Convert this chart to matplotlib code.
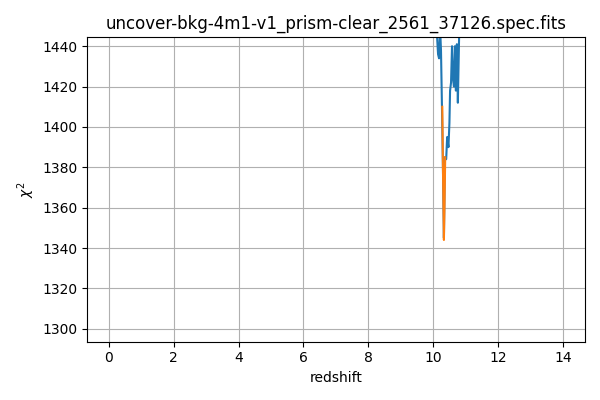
import matplotlib
matplotlib.use("Agg")
import matplotlib.pyplot as plt

TITLE = "uncover-bkg-4m1-v1_prism-clear_2561_37126.spec.fits"

# full chi2 curve (only the part around the minimum is in view)
z_all = [9.8, 10.00, 10.10, 10.15, 10.18, 10.21, 10.24, 10.27, 10.30, 10.33, 10.36,
         10.40, 10.43, 10.47, 10.50, 10.52, 10.55, 10.58, 10.61, 10.64,
         10.67, 10.70, 10.73, 10.76, 10.80, 10.9, 11.1]
chi2_all = [1520, 1480, 1450, 1436, 1434, 1450, 1438, 1410, 1380, 1345, 1385,
            1384, 1395, 1390, 1402, 1418, 1422, 1440, 1424, 1420,
            1440, 1418, 1441, 1412, 1446, 1470, 1510]

# zoomed fine grid around best fit
z_fine = [10.28, 10.30, 10.33, 10.35, 10.37]
chi2_fine = [1410, 1380, 1344, 1362, 1385]

fig, ax = plt.subplots(figsize=(6, 4), dpi=100)
ax.plot(z_all, chi2_all, color="#1f77b4")
ax.plot(z_fine, chi2_fine, color="#ff7f0e")
ax.set_xlim(-0.67, 14.68)
ax.set_ylim(1293.6, 1444.4)
ax.set_xlabel("redshift")
ax.set_ylabel(r"$\chi^2$")
ax.set_title(TITLE)
ax.grid(True)
plt.tight_layout()
plt.savefig("out.png")
